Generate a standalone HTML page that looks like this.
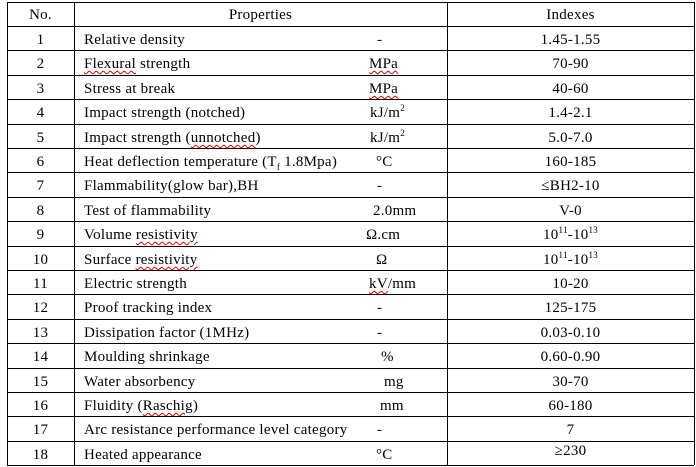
<!DOCTYPE html>
<html><head><meta charset="utf-8"><style>
body{margin:0;width:696px;height:467px;background:#fff;position:relative;font-family:"Liberation Serif",serif;font-size:15px;letter-spacing:0.25px;color:#000;overflow:hidden}
.h{position:absolute;left:7px;width:687px;height:1px;background:#000}
.v{position:absolute;top:2px;height:463px;width:1px;background:#000}
.t{position:absolute;white-space:nowrap;line-height:16px}
.c{text-align:center}
.w{text-decoration:underline wavy #d00;text-decoration-thickness:1px;text-underline-offset:2px}
sup{font-size:9px;line-height:0}
sub{font-size:9px;line-height:0}
</style></head><body>
<div id="g"></div>
<script>
var rows=[
["1","Relative density","-","1.45-1.55",377],
["2","<span class=w>Flexural</span> strength","<span class=w>MPa</span>","70-90",369],
["3","Stress at break","<span class=w>MPa</span>","40-60",369],
["4","Impact strength (notched)","kJ/m<sup>2</sup>","1.4-2.1",370],
["5","Impact strength (<span class=w>unnotched</span>)","kJ/m<sup>2</sup>","5.0-7.0",370],
["6","Heat deflection temperature (T<sub>f</sub> 1.8Mpa)","°C","160-185",376],
["7","Flammability(glow bar),BH","-","≤BH2-10",377],
["8","Test of flammability","2.0mm","V-0",373],
["9","Volume <span class=w>resistivity</span>","Ω.cm","10<sup>11</sup>-10<sup>13</sup>",366],
["10","Surface <span class=w>resistivity</span>","Ω","10<sup>11</sup>-10<sup>13</sup>",376],
["11","Electric strength","<span class=w>kV</span>/mm","10-20",369],
["12","Proof tracking index","-","125-175",377],
["13","Dissipation factor (1MHz)","-","0.03-0.10",377],
["14","Moulding shrinkage","%","0.60-0.90",381],
["15","Water absorbency","mg","30-70",384],
["16","Fluidity (<span class=w>Raschig</span>)","mm","60-180",380],
["17","Arc resistance performance level category","-","7",377],
["18","Heated appearance","°C","≥230",376]];
var h='';
var y0=26,rh=24.4;
h+='<div class="h" style="top:2px"></div>';
h+='<div class="t c" style="left:7px;width:67px;top:7px">No.</div>';
h+='<div class="t c" style="left:74px;width:373px;top:7px">Properties</div>';
h+='<div class="t c" style="left:447px;width:247px;top:7px">Indexes</div>';
for(var i=0;i<=18;i++){h+='<div class="h" style="top:'+Math.round(y0+i*rh)+'px"></div>';}
for(var i=0;i<18;i++){var r=rows[i],t=Math.round(y0+i*rh)+6;
h+='<div class="t c" style="left:7px;width:67px;top:'+t+'px">'+r[0]+'</div>';
h+='<div class="t" style="left:84px;top:'+t+'px">'+r[1]+'</div>';
h+='<div class="t" style="left:'+r[4]+'px;top:'+t+'px">'+r[2]+'</div>';
h+='<div class="t c" style="left:447px;width:247px;top:'+(i==17?t-4:t)+'px">'+r[3]+'</div>';}
h+='<div class="v" style="left:7px"></div><div class="v" style="left:74px"></div><div class="v" style="left:447px"></div><div class="v" style="left:694px"></div>';
document.getElementById('g').innerHTML=h;
</script>
</body></html>
